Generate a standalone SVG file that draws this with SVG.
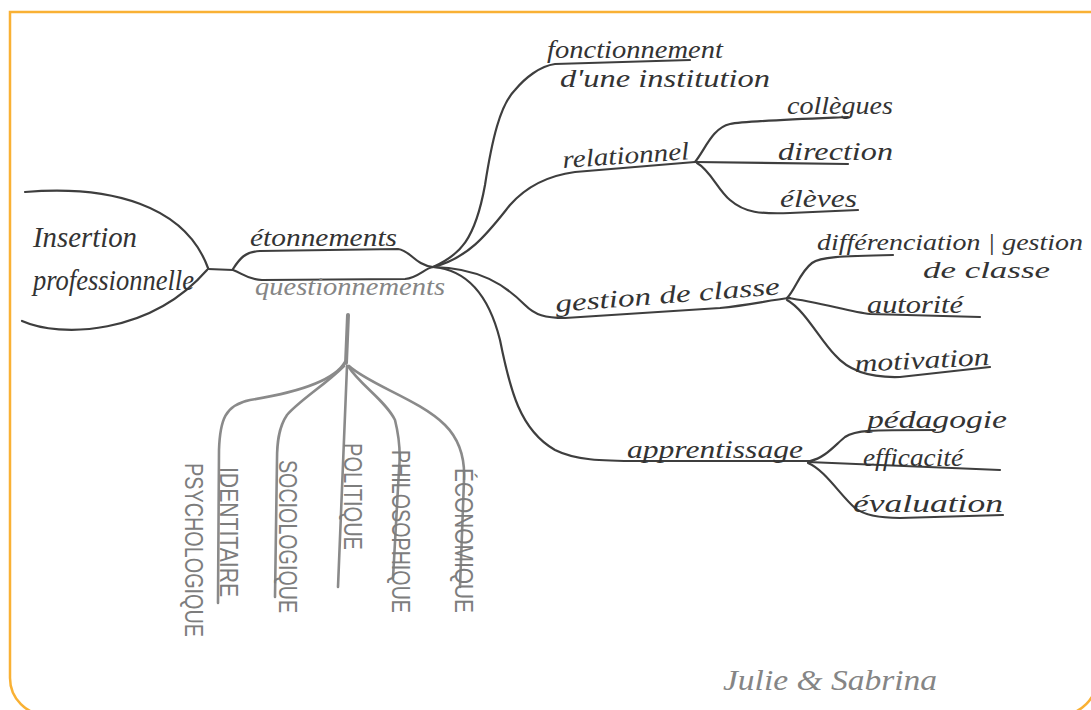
<svg xmlns="http://www.w3.org/2000/svg" width="1091" height="710" viewBox="0 0 1091 710">
<style>
.frame{fill:none;stroke:#F9B134;stroke-width:2.5}
.ln{fill:none;stroke:#3e3e3e;stroke-width:2.2;stroke-linecap:round;stroke-linejoin:round}
.gl{fill:none;stroke:#8a8a8a;stroke-width:2.6;stroke-linecap:round;stroke-linejoin:round}
.t{font-family:"Liberation Serif","DejaVu Serif",serif;font-style:italic;fill:#333;font-size:25px}
.tg{font-family:"Liberation Serif","DejaVu Serif",serif;font-style:italic;fill:#858585;font-size:25px}
.v{font-family:"Liberation Sans","DejaVu Sans",sans-serif;fill:#7d7d7d;font-size:26px}
</style>
<rect width="1091" height="710" fill="#fff"/>
<path class="frame" d="M1095 12 H10 V678 A37 37 0 0 0 47 715 H1060 A37 37 0 0 0 1097 678"/>
<g id="connectors">
<path class="ln" d="M25 192 C110 185,185 205,208 268 M22 321 C60 338,150 335,207 270"/>
<path class="ln" d="M208 269 L233 270"/>
<path class="ln" d="M233 269 C240 258,245 252,260 251 L398 249 C410 250,415 265,433 267"/>
<path class="ln" d="M233 270 C242 273,248 280,262 280 L405 279 C418 278,425 268,433 267"/>
<path class="gl" style="stroke-width:4" d="M348 315 L346 363"/>
<path class="gl" d="M345 362 C335 380,300 392,250 400 C225 405,220 420,219 450 L218 603"/>
<path class="gl" d="M344 366 C325 385,300 400,287 415 C278 428,277 445,277 460 L275 597"/>
<path class="gl" d="M347 366 L338 587"/>
<path class="gl" d="M348 366 C360 385,385 400,395 420 C400 440,400 460,399 470 L393 578"/>
<path class="gl" d="M349 366 C370 385,420 400,445 425 C460 440,465 460,464 480 L460 587"/>
<path class="ln" d="M433 267 C460 255,475 240,485 185 C492 140,500 105,515 90 C525 78,540 66,555 64 L690 60"/>
<path class="ln" d="M433 267 C470 258,490 230,510 205 C525 188,545 176,575 172 L695 162"/>
<path class="ln" d="M695 162 C705 150,712 128,730 124 C745 121,800 119,848 117"/>
<path class="ln" d="M695 162 L848 164"/>
<path class="ln" d="M697 163 C710 170,718 190,730 200 C745 213,760 214,790 213 L858 210"/>
<path class="ln" d="M433 267 C480 268,505 285,525 305 C535 315,545 318,565 318 L720 308 C750 305,770 300,790 298"/>
<path class="ln" d="M787 298 C795 290,800 272,812 263 C820 257,840 256,893 255"/>
<path class="ln" d="M787 298 C820 302,850 312,870 314 L980 317"/>
<path class="ln" d="M787 300 C805 310,820 340,835 355 C848 370,870 378,900 377 L990 367"/>
<path class="ln" d="M433 267 C470 270,490 300,500 340 C510 390,520 430,555 450 C575 460,600 461,640 461 L812 461"/>
<path class="ln" d="M810 461 C825 458,835 445,845 437 C855 430,870 430,935 430"/>
<path class="ln" d="M808 462 L1000 470"/>
<path class="ln" d="M808 463 C825 470,840 495,855 508 C865 516,880 518,900 518 L1003 515"/>
</g>
<g id="insertion">
<text class="t" x="33" y="247" style="font-size:30px" textLength="104" lengthAdjust="spacingAndGlyphs">Insertion</text>
<text class="t" x="33" y="290" style="font-size:30px" textLength="161" lengthAdjust="spacingAndGlyphs">professionnelle</text>
</g>
<g id="etonnements"><text class="t" x="250" y="246" textLength="147" lengthAdjust="spacingAndGlyphs">étonnements</text></g>
<g id="questionnements"><text class="tg" x="255" y="295" textLength="190" lengthAdjust="spacingAndGlyphs">questionnements</text></g>
<g id="identitaire"><text class="v" transform="translate(220,467) rotate(90)" textLength="130" lengthAdjust="spacingAndGlyphs">IDENTITAIRE</text></g>
<g id="psychologique"><text class="v" transform="translate(185,463) rotate(90)" textLength="174" lengthAdjust="spacingAndGlyphs">PSYCHOLOGIQUE</text></g>
<g id="sociologique"><text class="v" transform="translate(279,460) rotate(90)" textLength="153" lengthAdjust="spacingAndGlyphs">SOCIOLOGIQUE</text></g>
<g id="politique"><text class="v" transform="translate(344,443) rotate(90)" textLength="107" lengthAdjust="spacingAndGlyphs">POLITIQUE</text></g>
<g id="philosophique"><text class="v" transform="translate(392,450) rotate(90)" textLength="163" lengthAdjust="spacingAndGlyphs">PHILOSOPHIQUE</text></g>
<g id="economique"><text class="v" transform="translate(455,468) rotate(90)" textLength="145" lengthAdjust="spacingAndGlyphs">ÉCONOMIQUE</text></g>
<g id="fonctionnement">
<text class="t" x="547" y="58" textLength="176" lengthAdjust="spacingAndGlyphs">fonctionnement</text>
<text class="t" x="560" y="87" textLength="210" lengthAdjust="spacingAndGlyphs">d'une institution</text>
</g>
<g id="relationnel"><text class="t" transform="translate(563,168) rotate(-4)" textLength="127" lengthAdjust="spacingAndGlyphs">relationnel</text></g>
<g id="collegues"><text class="t" x="787" y="114" textLength="106" lengthAdjust="spacingAndGlyphs">collègues</text></g>
<g id="direction"><text class="t" x="778" y="160" textLength="115" lengthAdjust="spacingAndGlyphs">direction</text></g>
<g id="eleves"><text class="t" x="780" y="207" textLength="77" lengthAdjust="spacingAndGlyphs">élèves</text></g>
<g id="gestion"><text class="t" transform="translate(556,312) rotate(-4.5)" textLength="225" lengthAdjust="spacingAndGlyphs">gestion de classe</text></g>
<g id="differenciation">
<text class="t" x="817" y="250" style="font-size:24px" textLength="266" lengthAdjust="spacingAndGlyphs">différenciation | gestion</text>
<text class="t" x="923" y="278" style="font-size:24px" textLength="127" lengthAdjust="spacingAndGlyphs">de classe</text>
</g>
<g id="autorite"><text class="t" x="867" y="313" textLength="96" lengthAdjust="spacingAndGlyphs">autorité</text></g>
<g id="motivation"><text class="t" transform="translate(855,372) rotate(-3)" textLength="135" lengthAdjust="spacingAndGlyphs">motivation</text></g>
<g id="apprentissage"><text class="t" x="627" y="458" textLength="176" lengthAdjust="spacingAndGlyphs">apprentissage</text></g>
<g id="pedagogie"><text class="t" x="867" y="428" textLength="140" lengthAdjust="spacingAndGlyphs">pédagogie</text></g>
<g id="efficacite"><text class="t" x="863" y="466" textLength="100" lengthAdjust="spacingAndGlyphs">efficacité</text></g>
<g id="evaluation"><text class="t" x="853" y="512" textLength="150" lengthAdjust="spacingAndGlyphs">évaluation</text></g>
<g id="signature"><text class="tg" x="723" y="690" style="font-size:30px" textLength="214" lengthAdjust="spacingAndGlyphs">Julie &amp; Sabrina</text></g>
</svg>
